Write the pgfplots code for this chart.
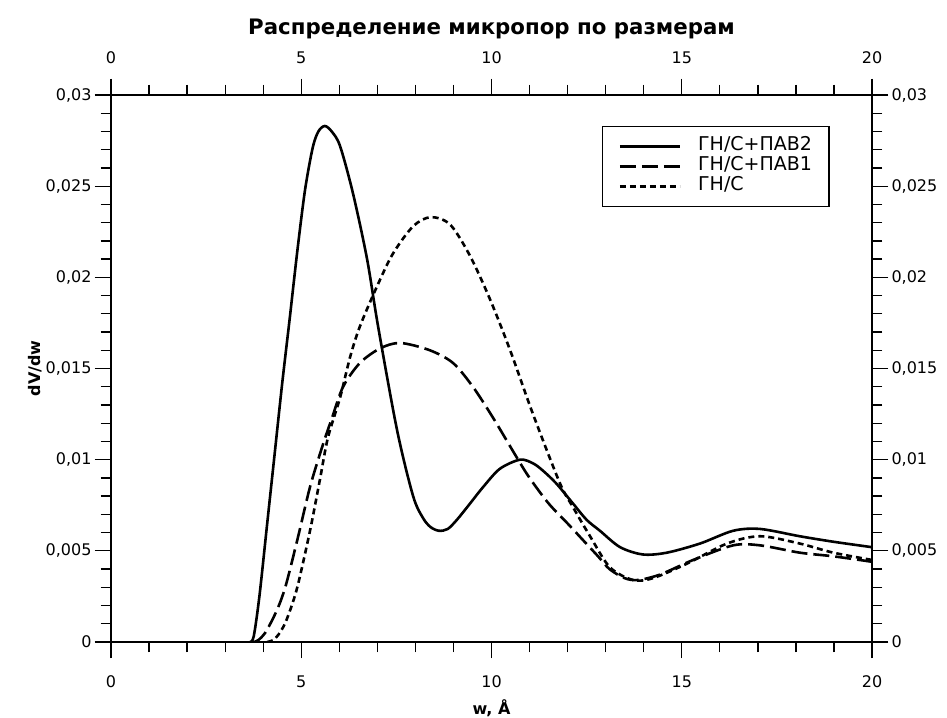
\documentclass[border=0pt]{standalone}
\usepackage{fontspec}
\setmainfont{DejaVu Sans}
\usepackage{pgfplots}
\pgfplotsset{compat=1.18}

\pgfplotsset{
  frame/.style={
    width=761pt, height=547pt, scale only axis,
    at={(111pt,75pt)}, anchor=south west,
    xmin=0, xmax=20, ymin=0, ymax=0.03,
    xtick={0,5,10,15,20}, minor x tick num=4,
    ytick={0,0.005,0.01,0.015,0.02,0.025,0.03}, minor y tick num=4,
    tick pos=both, tick align=outside,
    major tick length=16pt, minor tick length=10pt,
    axis line style={line width=1.5pt},
    every tick/.style={black, line width=1.3pt},
    scaled y ticks=false,
    /pgf/number format/use comma,
    /pgf/number format/fixed,
    /pgf/number format/precision=3,
    /pgf/number format/assume math mode=true,
    tick label style={font=\fontsize{16}{18}\selectfont},
  }
}

\begin{document}
\begin{tikzpicture}
\useasboundingbox (0,0) rectangle (947pt,717pt);

% top and right tick labels
\begin{axis}[frame, xticklabel pos=right, yticklabel pos=right,
  xticklabel style={yshift=12pt}]
\end{axis}

\begin{axis}[frame,
  xticklabel style={yshift=-14pt},
  title={Распределение микропор по размерам},
  title style={at={(axis description cs:0.5,1)}, anchor=center, yshift=60pt,
    font=\bfseries\fontsize{21.3}{24}\selectfont},
  xlabel={w, Å},
  xlabel style={at={(axis description cs:0.5,0)}, anchor=center, yshift=-66pt,
    font=\bfseries\fontsize{16}{18}\selectfont},
  ylabel={dV/dw},
  ylabel style={at={(axis description cs:-0.0999,0.5)}, anchor=center,
    font=\bfseries\fontsize{16}{18}\selectfont},
  legend style={at={(rel axis cs:0.645,0.9433)}, anchor=north west,
    draw=black, line width=1.4pt, fill=white,
    font=\fontsize{19}{21}\selectfont,
    inner xsep=16pt, inner ysep=10pt, row sep=0pt,
    nodes={text height=13pt, text depth=5pt, inner sep=1pt}},
  legend cell align=left,
  legend image code/.code={\draw[#1] (0pt,0pt) -- (60pt,0pt); \path (76pt,0pt);},
]

% ГН/С+ПАВ2
\addplot[black, line width=2.6pt, smooth, tension=0.5] coordinates {
(3.65,0) (3.75,0.0003) (3.9,0.0025) (4.1,0.0064) (4.3,0.0103) (4.5,0.0142)
(4.7,0.0178) (4.9,0.0215) (5.1,0.0248) (5.3,0.0271) (5.45,0.0280) (5.62,0.0283)
(5.8,0.0280) (6.02,0.0272) (6.36,0.0246) (6.73,0.0210) (7.02,0.0173)
(7.52,0.0116) (7.94,0.0080) (8.2,0.0068) (8.4,0.0063) (8.62,0.0061) (8.85,0.0062)
(9.09,0.0067) (9.4,0.0075) (9.78,0.0085) (10.22,0.0095) (10.75,0.0100)
(11.09,0.0098) (11.35,0.0094) (11.7,0.0087) (12.14,0.0076) (12.5,0.0067)
(12.85,0.0061) (13.38,0.0052) (13.98,0.0048) (14.61,0.0049) (15.48,0.0054)
(16.35,0.0061) (17.06,0.0062) (18.1,0.0058) (18.98,0.0055) (20,0.0052)
};
\addlegendentry{ГН/С+ПАВ2}

% ГН/С+ПАВ1
\addplot[black, line width=2.6pt, dash pattern=on 16pt off 6pt, smooth, tension=0.5] coordinates {
(3.75,0) (3.87,0.0001) (4.05,0.0005) (4.26,0.0013) (4.45,0.0022) (4.62,0.0033)
(4.92,0.0058) (5.23,0.0085) (5.55,0.0107) (5.81,0.0123) (6.1,0.0140)
(6.54,0.0153) (7.07,0.0161) (7.6,0.0164) (8.38,0.0160) (8.99,0.0153)
(9.51,0.0140) (10.04,0.0123) (10.67,0.0101) (11.0,0.0090) (11.5,0.0076)
(12.0,0.0065) (12.4,0.0056) (12.8,0.0047) (13.1,0.0040) (13.5,0.0035)
(13.85,0.0034) (14.43,0.0037) (15.3,0.0045) (16.35,0.0053) (17.06,0.0053)
(18.1,0.0049) (18.98,0.0047) (20,0.0044)
};
\addlegendentry{ГН/С+ПАВ1}

% ГН/С
\addplot[black, line width=2.6pt, dash pattern=on 6pt off 4pt, smooth, tension=0.5] coordinates {
(4.1,0) (4.26,0.0001) (4.4,0.0004) (4.57,0.0010) (4.75,0.0020) (4.92,0.0032)
(5.23,0.0061) (5.49,0.0089) (5.7,0.0112) (6.02,0.0134) (6.28,0.0156)
(6.54,0.0173) (6.99,0.0195) (7.41,0.0213) (7.94,0.0228) (8.4,0.0233)
(8.91,0.0229) (9.43,0.0212) (9.96,0.0188) (10.49,0.0160) (11.09,0.0125)
(11.8,0.0087) (12.14,0.0074) (12.59,0.0058) (13.11,0.0041) (13.72,0.0034)
(14.24,0.0035) (15.14,0.0043) (16.19,0.0054) (17.06,0.0058) (18.1,0.0054)
(18.98,0.0049) (20,0.0045)
};
\addlegendentry{ГН/С}

\end{axis}
\end{tikzpicture}
\end{document}
